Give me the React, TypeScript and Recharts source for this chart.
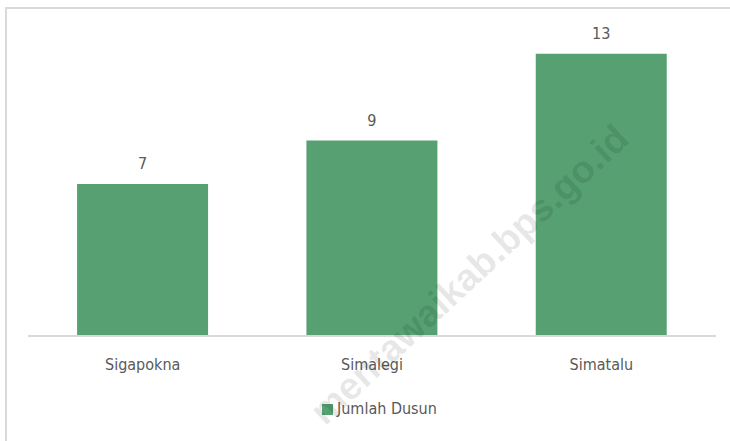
import React from 'react';
import { BarChart, Bar, XAxis, YAxis, LabelList, Legend } from 'recharts';

const categories = ['Sigapokna', 'Simalegi', 'Simatalu'];
const jumlahDusun = [7, 9, 13];
const seriesName = 'Jumlah Dusun';
const watermark = 'mentawaikab.bps.go.id';

const data = categories.map((c, i) => ({ name: c, value: jumlahDusun[i] }));

const FONT = '"DejaVu Sans Condensed", "DejaVu Sans", sans-serif';
const GREEN = '#56A072';
const TEXT = '#595959';
const textStyle = { fill: TEXT, fontSize: 16, fontFamily: FONT, fontStretch: 'condensed' as const };

const LegendContent = () => (
  <div style={{ height: 65, width: 730, position: 'relative', fontFamily: FONT, fontStretch: 'condensed' }}>
    <div style={{ position: 'absolute', top: 23, left: 322, display: 'flex', alignItems: 'center' }}>
      <div style={{ width: 11, height: 11, background: GREEN, marginRight: 4 }} />
      <span style={{ fontSize: 16, color: TEXT, lineHeight: '20px' }}>{seriesName}</span>
    </div>
  </div>
);

export default function App() {
  return (
    <div style={{ position: 'absolute', left: 0, top: 0, width: 730, height: 441, overflow: 'hidden', background: '#fff' }}>
      <div style={{ position: 'absolute', left: 5, top: 7, width: 760, height: 480, border: '2px solid #d9d9d9', boxSizing: 'border-box' }} />
      <div style={{ position: 'absolute', left: 0, top: 0 }}>
        <BarChart width={730} height={441} data={data} margin={{ top: 32, right: 14, left: 28, bottom: 0 }} barCategoryGap="21.4%">
          <YAxis hide domain={[0, 14]} />
          <XAxis
            dataKey="name"
            tickLine={false}
            axisLine={{ stroke: '#d9d9d9', strokeWidth: 2 }}
            height={40}
            tickMargin={17}
            tick={textStyle}
            interval={0}
          />
          <Legend verticalAlign="bottom" content={<LegendContent />} wrapperStyle={{ left: 0, width: 730 }} />
          <Bar dataKey="value" name={seriesName} fill={GREEN} isAnimationActive={false}>
            <LabelList dataKey="value" position="top" offset={15} style={textStyle} />
          </Bar>
        </BarChart>
      </div>
      <svg width={730} height={441} style={{ position: 'absolute', left: 0, top: 0, pointerEvents: 'none' }}>
        <text
          x={478}
          y={284}
          textAnchor="middle"
          transform="rotate(-43 478 284)"
          style={{ fontFamily: '"Liberation Sans", Arial, sans-serif', fontWeight: 'bold', fontSize: 38, fill: '#000', fillOpacity: 0.1 }}
        >
          {watermark}
        </text>
      </svg>
    </div>
  );
}
